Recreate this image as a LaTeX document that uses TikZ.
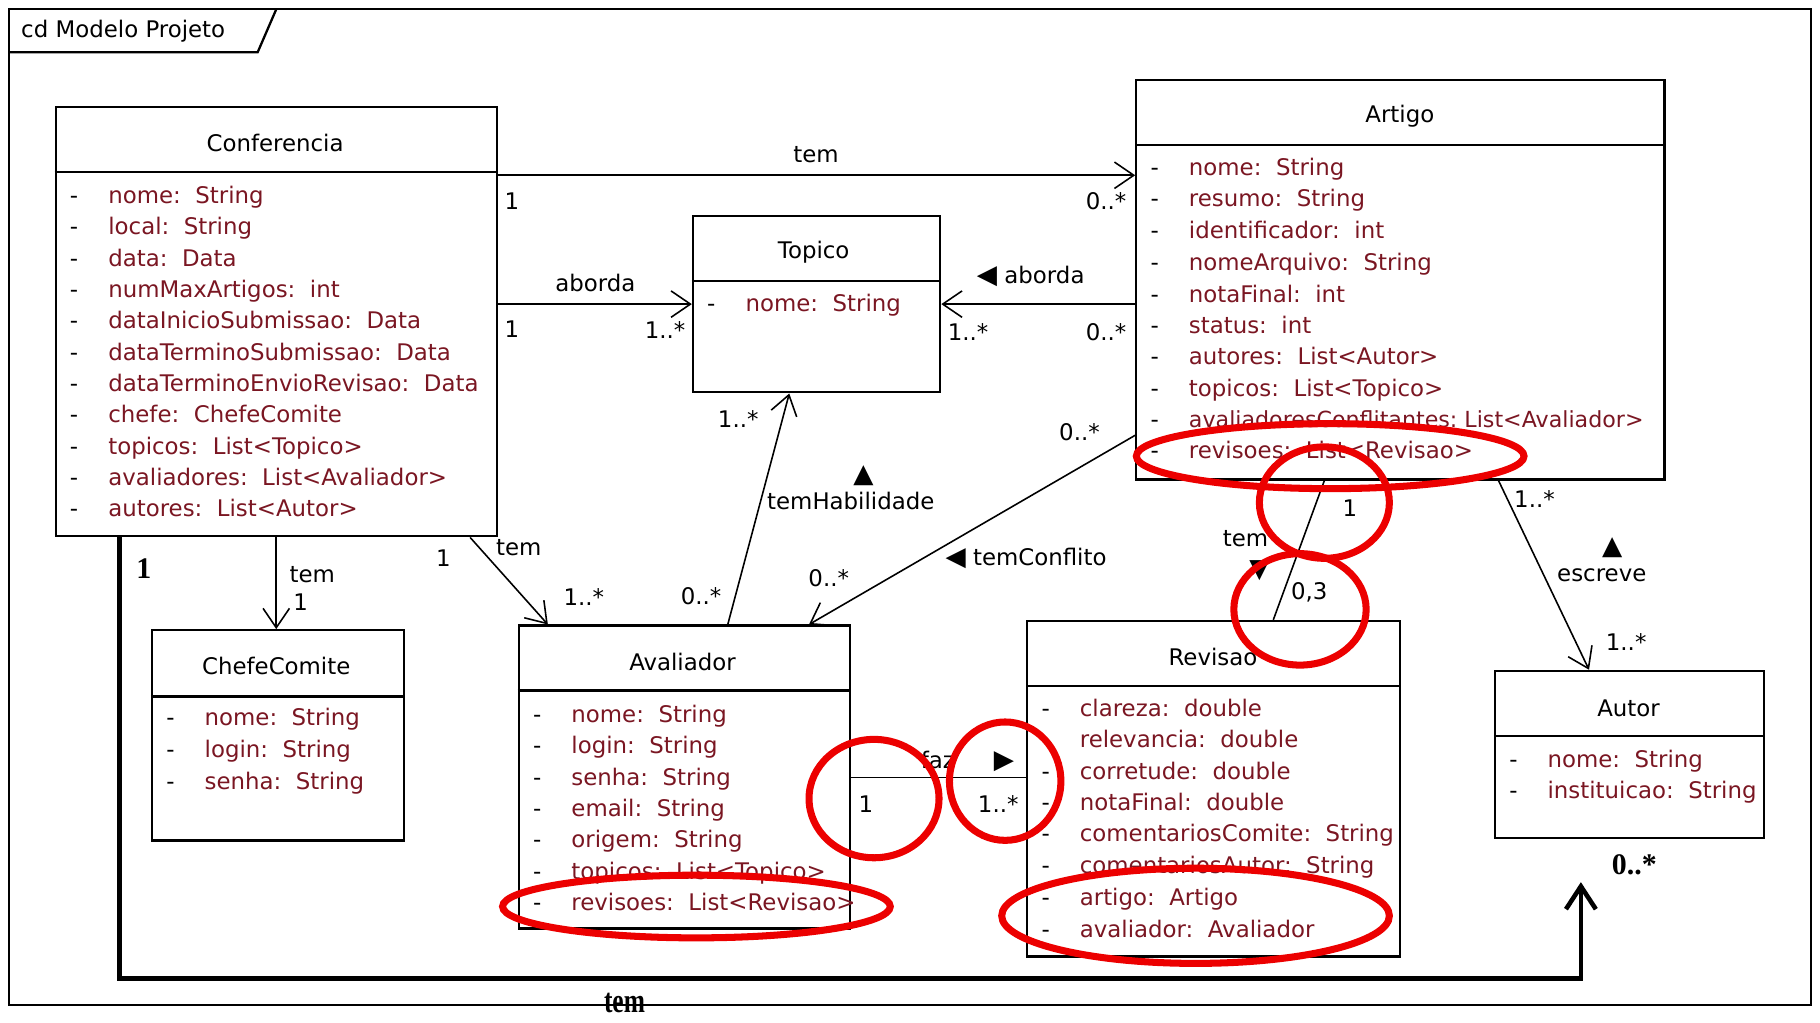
\documentclass[tikz,border=0pt]{standalone}
\usepackage{fontspec}
\usetikzlibrary{arrows.meta,fit,positioning}
\newfontfamily\umlfont{DejaVu Sans}
\newfontfamily\notefont{Liberation Serif}
\definecolor{attrred}{RGB}{122,22,34}
\definecolor{markred}{RGB}{236,0,0}
\newcommand{\umlsize}{\umlfont\fontsize{13}{15}\selectfont}
\tikzset{
  classbox/.style={draw,line width=1.3pt,inner sep=0pt},
  classname/.style={font=\umlsize,inner sep=0pt},
  attr/.style={anchor=west,inner sep=0pt,text height=9.5pt,text depth=2.5pt,text=attrred,font=\umlsize,
    execute at begin node={\makebox[21.8pt][l]{\textcolor{black}{-}}}},
  lbl/.style={font=\umlsize,inner sep=0pt},
  assoc/.style={line width=0.9pt},
  nav/.style={assoc,-{Straight Barb[length=11pt,width=15pt,line width=0.9pt]}},
  boldnote/.style={font=\notefont\bfseries\fontsize{17}{20}\selectfont,inner sep=0pt},
  redmark/.style={draw=markred,line width=4pt}
}
\begin{document}
\begin{tikzpicture}[x=0.0232cm,y=-0.0232cm]
\useasboundingbox (0,0) rectangle (1568,881);
\draw [line width=1.3pt] (8,8) rectangle (1560,866);
\draw [line width=1.3pt] (8,45) -- (222,45) -- (238,8);
\node[lbl,anchor=west] (framelbl) at (18,27) {cd Modelo Projeto};
\node[classbox,fit={(48,92) (428,462)}] (conf) {};
\node[classbox,fit={(597,186) (810,338)}] (top) {};
\node[classbox,fit={(979,69) (1434,413)}] (art) {};
\node[classbox,fit={(131,543) (348,724)}] (chefe) {};
\node[classbox,fit={(447,539) (732,800)}] (aval) {};
\node[classbox,fit={(885,535) (1206,824)}] (rev) {};
\node[classbox,fit={(1288,578) (1520,722)}] (autor) {};
\draw [line width=1.3pt] (conf.west |- 0,148) -- (conf.east |- 0,148);
\draw [line width=1.3pt] (top.west |- 0,242) -- (top.east |- 0,242);
\draw [line width=1.3pt] (art.west |- 0,125) -- (art.east |- 0,125);
\draw [line width=1.3pt] (chefe.west |- 0,600) -- (chefe.east |- 0,600);
\draw [line width=1.3pt] (aval.west |- 0,595) -- (aval.east |- 0,595);
\draw [line width=1.3pt] (rev.west |- 0,591) -- (rev.east |- 0,591);
\draw [line width=1.3pt] (autor.west |- 0,634) -- (autor.east |- 0,634);
\node[classname] (conft) at (237,123) {Conferencia};
\node[classname] (topt) at (701,217) {Topico};
\node[classname] (artt) at (1206,100) {Artigo};
\node[classname] (chefet) at (238,574) {ChefeComite};
\node[classname] (avalt) at (588,570) {Avaliador};
\node[classname] (revt) at (1045,566) {Revisao};
\node[classname] (autort) at (1403,610) {Autor};
\node[attr] (conf1) at (60,170) {nome:\ \ String};
\node[attr] (conf2) at (60,197) {local:\ \ String};
\node[attr] (conf3) at (60,224) {data:\ \ Data};
\node[attr] (conf4) at (60,251) {numMaxArtigos:\ \ int};
\node[attr] (conf5) at (60,278) {dataInicioSubmissao:\ \ Data};
\node[attr] (conf6) at (60,305) {dataTerminoSubmissao:\ \ Data};
\node[attr] (conf7) at (60,332) {dataTerminoEnvioRevisao:\ \ Data};
\node[attr] (conf8) at (60,359) {chefe:\ \ ChefeComite};
\node[attr] (conf9) at (60,386) {topicos:\ \ List<Topico>};
\node[attr] (conf10) at (60,413) {avaliadores:\ \ List<Avaliador>};
\node[attr] (conf11) at (60,440) {autores:\ \ List<Autor>};
\node[attr] (top1) at (609,263) {nome:\ \ String};
\node[attr] (art1) at (991,146) {nome:\ \ String};
\node[attr] (art2) at (991,173) {resumo:\ \ String};
\node[attr] (art3) at (991,200) {identificador:\ \ int};
\node[attr] (art4) at (991,228) {nomeArquivo:\ \ String};
\node[attr] (art5) at (991,255) {notaFinal:\ \ int};
\node[attr] (art6) at (991,282) {status:\ \ int};
\node[attr] (art7) at (991,309) {autores:\ \ List<Autor>};
\node[attr] (art8) at (991,336) {topicos:\ \ List<Topico>};
\node[attr] (art9) at (991,363) {\fontsize{12.6}{15}\selectfont avaliadoresConflitantes:\ List<Avaliador>};
\node[attr] (art10) at (991,390) {revisoes:\ \ List<Revisao>};
\node[attr] (chefe1) at (143,620) {nome:\ \ String};
\node[attr] (chefe2) at (143,647) {login:\ \ String};
\node[attr] (chefe3) at (143,675) {senha:\ \ String};
\node[attr] (aval1) at (459,617) {nome:\ \ String};
\node[attr] (aval2) at (459,644) {login:\ \ String};
\node[attr] (aval3) at (459,671) {senha:\ \ String};
\node[attr] (aval4) at (459,698) {email:\ \ String};
\node[attr] (aval5) at (459,725) {origem:\ \ String};
\node[attr] (aval6) at (459,752) {topicos:\ \ List<Topico>};
\node[attr] (aval7) at (459,779) {revisoes:\ \ List<Revisao>};
\node[attr] (rev1) at (897,612) {clareza:\ \ double};
\node[attr] (rev2) at (897,639) {relevancia:\ \ double};
\node[attr] (rev3) at (897,666) {corretude:\ \ double};
\node[attr] (rev4) at (897,693) {notaFinal:\ \ double};
\node[attr] (rev5) at (897,720) {comentariosComite:\ \ String};
\node[attr] (rev6) at (897,747) {comentariosAutor:\ \ String};
\node[attr] (rev7) at (897,775) {artigo:\ \ Artigo};
\node[attr] (rev8) at (897,802) {avaliador:\ \ Avaliador};
\node[attr] (autor1) at (1300,656) {nome:\ \ String};
\node[attr] (autor2) at (1300,683) {instituicao:\ \ String};
\draw [nav] (conf.east |- 0,151) -- (art.west |- 0,151);
\draw [nav] (conf.east |- 0,262) -- (top.west |- 0,262);
\draw [nav] (art.west |- 0,262) -- (top.east |- 0,262);
\draw [nav] (conf.south -| 238,0) -- (chefe.north -| 238,0);
\draw [nav] (conf.south -| 405,0) -- (aval.north -| 472,0);
\draw [nav] (aval.north -| 627,0) -- (top.south -| 680,0);
\draw [nav] (art.west |- 0,375) -- (aval.north -| 697,0);
\draw [assoc] (art.south -| 1141,0) -- (rev.north -| 1097,0);
\draw [nav] (art.south -| 1291,0) -- (autor.north -| 1369,0);
\draw [assoc] (aval.east |- 0,670) -- (rev.west |- 0,670);
\coordinate (temend) at (1362,760);
\draw [line width=2.6pt,-{Straight Barb[length=13pt,width=17pt,line width=2.6pt]}] (conf.south -| 103,0) |- (1362,843) -- (temend);
\begin{scope}[every node/.style={lbl}]
\node (l1) at (703,133) {tem};
\node (m1a) at (441,173) {1};
\node (m1b) at (953,173) {0..*};
\node (l2) at (513,244) {aborda};
\node (m2a) at (441,284) {1};
\node (m2b) at (573,284) {1..*};
\node (l3) at (888,238) {\scalebox{1.15}{◀} aborda};
\node (m3a) at (834,286) {1..*};
\node (m3b) at (953,286) {0..*};
\node (l4) at (269,495) {tem};
\node (m4) at (259,519) {1};
\node (l5) at (447,472) {tem};
\node (m5a) at (382,481) {1};
\node (m5b) at (503,514) {1..*};
\node (t6) at (744,410) {\scalebox{1.15}{▲}};
\node (l6) at (733,432) {temHabilidade};
\node (m6a) at (636,361) {1..*};
\node (m6b) at (604,514) {0..*};
\node (l7) at (884,481) {\scalebox{1.15}{◀} temConflito};
\node (m7a) at (930,372) {0..*};
\node (m7b) at (714,498) {0..*};
\node (l8) at (1073,464) {tem};
\node (t8) at (1085,492) {\scalebox{1.15}{▼}};
\node (m8a) at (1163,438) {1};
\node (m8b) at (1128,510) {0,3};
\node (t9) at (1389,472) {\scalebox{1.15}{▲}};
\node (l9) at (1380,496) {escreve};
\node (m9a) at (1322,430) {1..*};
\node (m9b) at (1401,553) {1..*};
\node (l10) at (808,655) {faz};
\node (t10) at (865,656) {\scalebox{1.15}{▶}};
\node (m10a) at (746,693) {1};
\node (m10b) at (860,693) {1..*};
\end{scope}
\node[boldnote] (n1) at (124,490) {1};
\node[boldnote] (n0) at (1408,745) {0..*};
\node[boldnote] (ntem) at (538,864) {\scalebox{0.85}[1.15]{tem}};
\draw [redmark] (1146,393) ellipse [x radius=167,y radius=28];
\draw [redmark] (1141,433) ellipse [x radius=56,y radius=48];
\draw [redmark] (1120,525) ellipse [x radius=57,y radius=48];
\draw [redmark] (600,781) ellipse [x radius=167,y radius=27];
\draw [redmark] (753,688) ellipse [x radius=56,y radius=51];
\draw [redmark] (866,673) ellipse [x radius=48,y radius=51];
\draw [redmark] (1030,789) ellipse [x radius=167,y radius=41];
\end{tikzpicture}
\end{document}
